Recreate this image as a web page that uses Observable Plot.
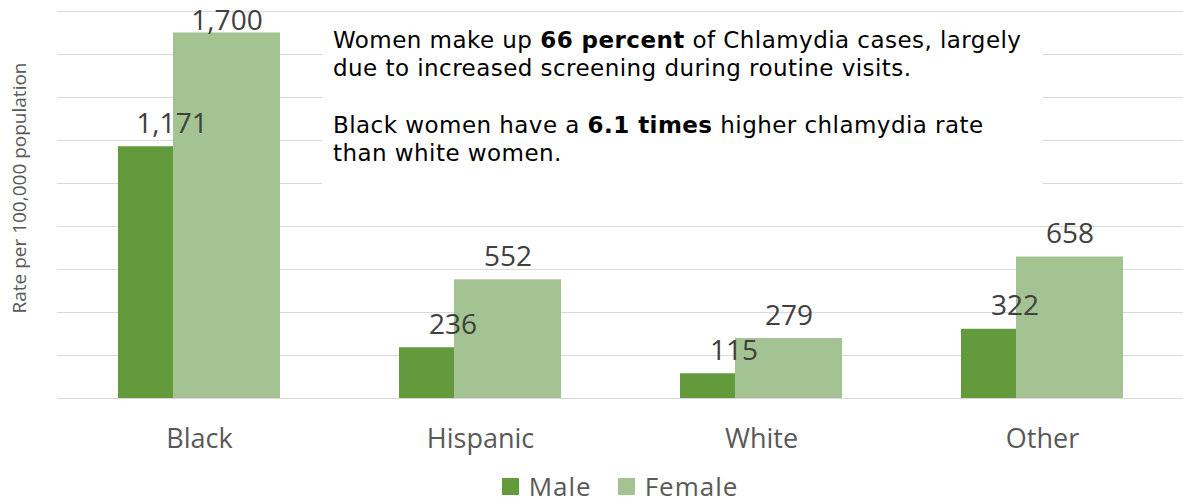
<!DOCTYPE html>
<html>
<head>
<meta charset="utf-8">
<script src="https://cdn.jsdelivr.net/npm/d3@7"></script>
<script src="https://cdn.jsdelivr.net/npm/@observablehq/plot@0.6"></script>
<style>
  html, body { margin: 0; padding: 0; background: #fff; }
  #wrap { position: relative; width: 1183px; height: 502px; }
  #note {
    position: absolute; left: 322px; top: 20px; width: 710px; height: 166px;
    background: #fff; padding: 6.2px 0 0 11px; box-sizing: content-box;
    font-family: "DejaVu Sans", Verdana, sans-serif; font-size: 23px; line-height: 28.3px;
    letter-spacing: 0.45px; color: #000; white-space: nowrap;
  }
  #legend {
    display: flex; justify-content: center; align-items: center;
    padding-left: 57px; padding-top: 11px; height: 26px;
    font-family: "Open Sans", sans-serif; font-size: 26px; line-height: 26px;
    letter-spacing: 1px; color: #595959;
  }
  #legend .item { display: flex; align-items: center; margin: 0 13px; }
  #legend .sw { width: 17px; height: 17px; margin-right: 10px; }
</style>
</head>
<body>
<div id="wrap">
  <div id="chart"></div>
  <div id="legend"></div>
  <div id="note"></div>
</div>
<script>
const categories = ["Black", "Hispanic", "White", "Other"];
const maleValues = [1171, 236, 115, 322];
const femaleValues = [1700, 552, 279, 658];
const seriesNames = ["Male", "Female"];
const seriesColors = ["#639A3C", "#A3C492"];
const gridTicks = [0, 200, 400, 600, 800, 1000, 1200, 1400, 1600, 1800];
const yLabel = "Rate per 100,000 population";

const maleData = categories.map((c, i) => ({race: c, sex: "Male", value: maleValues[i]}));
const femaleData = categories.map((c, i) => ({race: c, sex: "Female", value: femaleValues[i]}));
const fmt = d3.format(",");
const labelColor = "#404040";

const plot = Plot.plot({
  width: 1183,
  height: 462,
  marginLeft: 57,
  marginRight: 0,
  marginTop: 11,
  marginBottom: 64,
  style: {fontFamily: "'Open Sans', sans-serif", background: "white", color: "#595959"},
  x: {domain: categories, paddingInner: 0.4245, paddingOuter: 0.21225, label: null},
  y: {domain: [0, 1800], label: null},
  marks: [
    Plot.gridY(gridTicks, {stroke: "#d9d9d9", strokeOpacity: 1, strokeWidth: 1}),
    Plot.barY(maleData, {x: "race", y: "value", fill: seriesColors[0], insetRight: 55, insetLeft: 0}),
    Plot.barY(femaleData, {x: "race", y: "value", fill: seriesColors[1], insetLeft: 55, insetRight: 0}),
    Plot.text(maleData, {x: "race", y: "value", text: d => fmt(d.value), dx: -27.5, dy: -14, lineAnchor: "bottom", fontSize: 28, fill: labelColor}),
    Plot.text(femaleData.filter(d => d.value < 1650), {x: "race", y: "value", text: d => fmt(d.value), dx: 27.5, dy: -14, lineAnchor: "bottom", fontSize: 28, fill: labelColor}),
    Plot.text(femaleData.filter(d => d.value >= 1650), {x: "race", y: "value", text: d => fmt(d.value), dx: 27.5, dy: -3, lineAnchor: "bottom", fontSize: 28, fill: labelColor}),
    Plot.axisX({tickSize: 0, tickPadding: 30, fontSize: 27, label: null}),
    Plot.axisY({ticks: [], label: null}),
    Plot.text([yLabel], {frameAnchor: "left", rotate: -90, dx: -38, dy: -17, textAnchor: "middle", lineAnchor: "middle", fontSize: 19, fill: "#595959"})
  ]
});
document.getElementById("chart").appendChild(plot);

const legend = document.getElementById("legend");
seriesNames.forEach((name, i) => {
  const item = document.createElement("div");
  item.className = "item";
  const sw = document.createElement("div");
  sw.className = "sw";
  sw.style.background = seriesColors[i];
  const t = document.createElement("span");
  t.textContent = name;
  item.appendChild(sw);
  item.appendChild(t);
  legend.appendChild(item);
});

document.getElementById("note").innerHTML =
  "Women make up <b>66 percent</b> of Chlamydia cases, largely<br>" +
  "due to increased screening during routine visits.<br><br>" +
  "Black women have a <b>6.1 times</b> higher chlamydia rate<br>" +
  "than white women.";
</script>
</body>
</html>
